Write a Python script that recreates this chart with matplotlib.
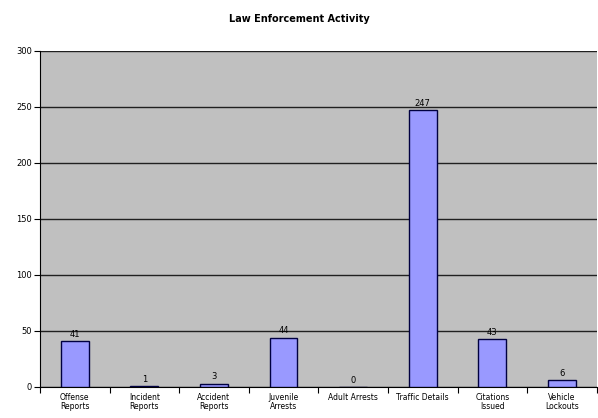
import matplotlib
matplotlib.use("Agg")
import matplotlib.pyplot as plt
import numpy as np

categories = ["Offense\nReports", "Incident\nReports", "Accident\nReports", "Juvenile\nArrests",
              "Adult Arrests", "Traffic Details", "Citations\nIssued", "Vehicle\nLockouts"]
values = [41, 1, 3, 44, 0, 247, 43, 6]
yticks = [0, 50, 100, 150, 200, 250, 300]

fig = plt.figure(figsize=(5.98, 4.18), dpi=100)
fig.patch.set_facecolor("white")
ax = fig.add_axes([0.0669, 0.0742, 0.931, 0.804])
ax.set_facecolor("#C0C0C0")

x = np.arange(len(categories))
ax.bar(x, values, width=0.4, color="#9999FF", edgecolor="#000040", linewidth=1.0, zorder=3)
for xi, v in zip(x, values):
    ax.text(xi, v + 2, str(v), ha="center", va="bottom", fontsize=6, zorder=4)

ax.set_xlim(-0.5, len(categories) - 0.5)
ax.set_ylim(0, 300)
ax.set_yticks(yticks)
ax.set_yticklabels([str(t) for t in yticks], fontsize=6)
ax.yaxis.grid(True, color="#202020", linewidth=1.0, zorder=1)
ax.set_axisbelow(True)

ax.set_xticks(x)
ax.set_xticklabels(categories, fontsize=5.5, linespacing=1.0)
ax.tick_params(axis="x", length=0, pad=4)
ax.set_xticks(np.arange(len(categories) + 1) - 0.5, minor=True)
ax.tick_params(axis="x", which="minor", length=4, width=0.8, direction="out")
ax.tick_params(axis="y", length=4, width=0.8, direction="out", pad=2)

for s in ["top", "right"]:
    ax.spines[s].set_visible(False)
ax.spines["left"].set_color("black")
ax.spines["bottom"].set_color("black")

fig.text(0.5, 0.955, "Law Enforcement Activity", ha="center", va="center", fontsize=7, fontweight="bold")

fig.savefig("out.png", dpi=100)
